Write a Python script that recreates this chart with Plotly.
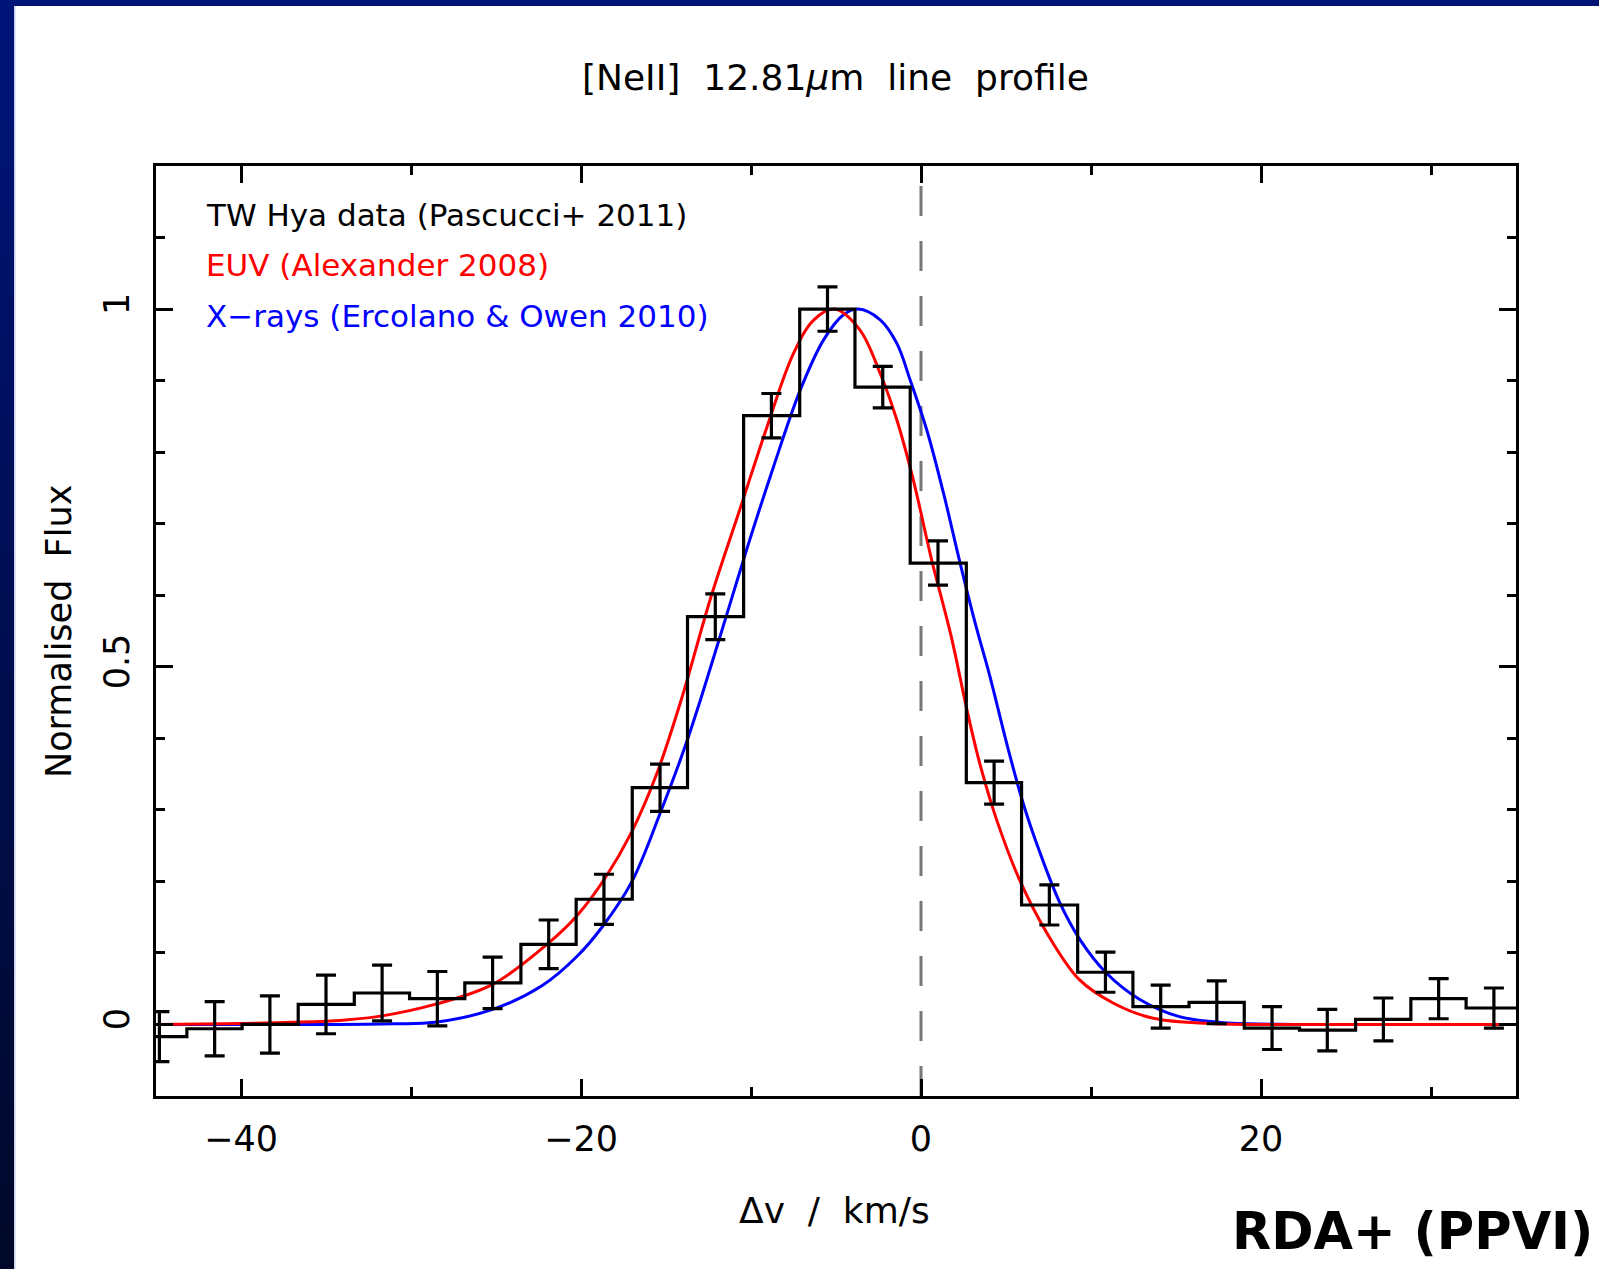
import plotly.graph_objects as go

# ---------------- data ----------------
bin_centers = [-44.8, -41.55, -38.3, -35.0, -31.7, -28.45, -25.2, -21.9, -18.65, -15.35,
               -12.1, -8.8, -5.5, -2.25, 1.0, 4.3, 7.55, 10.85, 14.1, 17.4,
               20.65, 23.9, 27.2, 30.45, 33.7]
bin_width = 3.27
flux = [-0.017, -0.006, 0.0, 0.028, 0.044, 0.036, 0.058, 0.112, 0.175, 0.331,
        0.570, 0.851, 1.0, 0.891, 0.645, 0.338, 0.167, 0.073, 0.025, 0.031,
        -0.005, -0.008, 0.007, 0.036, 0.023]
flux_err = [0.035, 0.038, 0.040, 0.041, 0.039, 0.038, 0.036, 0.034, 0.035, 0.033,
            0.032, 0.031, 0.031, 0.029, 0.031, 0.030, 0.028, 0.028, 0.030, 0.030,
            0.030, 0.029, 0.030, 0.028, 0.028]

euv_v = [-45, -41, -37, -34, -31.7, -28.6, -25.2, -21.85, -20.2, -18.6, -17.0, -15.55,
         -14.05, -12.4, -10.6, -9.05, -7.5, -6.3, -5.1, -3.6, -2.4, -1.42, -0.45, 0.6,
         1.8, 2.7, 3.5, 4.45, 5.8, 7.4, 9.3, 11.3, 13.6, 17.2, 22, 28, 35]
euv_flux = [0.0, 0.001, 0.003, 0.006, 0.012, 0.028, 0.056, 0.115, 0.153, 0.204, 0.270, 0.350,
            0.458, 0.594, 0.724, 0.836, 0.938, 0.985, 1.0, 0.971, 0.910, 0.845, 0.761, 0.652,
            0.540, 0.440, 0.361, 0.286, 0.202, 0.128, 0.063, 0.030, 0.009, 0.001, 0.0, 0.0, 0.0]

xray_v = [-45, -35, -31, -28.6, -25.2, -22.3, -20.2, -18.7, -17.0, -15.3, -13.9, -12.97,
          -11.4, -10.2, -8.67, -7.1, -5.73, -4.56, -3.7, -2.4, -1.42, -0.64, 0.34, 1.32,
          2.3, 3.2, 4.06, 5.04, 6.0, 7.0, 8.17, 9.34, 10.9, 12.87, 15.2, 18.1, 22, 28, 35]
xray_flux = [0.0, 0.0, 0.001, 0.003, 0.021, 0.054, 0.096, 0.138, 0.200, 0.298, 0.387, 0.454,
             0.575, 0.668, 0.780, 0.887, 0.957, 0.992, 1.0, 0.985, 0.952, 0.901, 0.831, 0.743,
             0.645, 0.560, 0.486, 0.393, 0.310, 0.240, 0.170, 0.119, 0.072, 0.035, 0.011, 0.002,
             0.0, 0.0, 0.0]

legend_labels = ["TW Hya data (Pascucci+ 2011)", "EUV (Alexander 2008)",
                 "X\u2212rays (Ercolano & Owen 2010)"]
legend_colors = ["black", "#ff0000", "#0000ff"]
legend_y = [1.131, 1.061, 0.991]

# ---------------- layout geometry ----------------
W, H = 1599, 1269
ML, MR, MT, MB = 156, 83, 166, 173
PW, PH = W - ML - MR, H - MT - MB

def px_x(X):
    return (X - ML) / PW

def px_y(Y):
    return (H - MB - Y) / PH

FONT = "DejaVu Sans"

# step histogram edges from bin centres
edges = [c - bin_width / 2 for c in bin_centers] + [bin_centers[-1] + bin_width / 2]
step_y = flux + [flux[-1]]

fig = go.Figure()

fig.add_trace(go.Scatter(x=xray_v, y=xray_flux, mode="lines",
                         line=dict(color="#0000ff", width=3, shape="spline", smoothing=1.0),
                         showlegend=False, hoverinfo="skip"))
fig.add_trace(go.Scatter(x=euv_v, y=euv_flux, mode="lines",
                         line=dict(color="#ff0000", width=3, shape="spline", smoothing=1.0),
                         showlegend=False, hoverinfo="skip"))
fig.add_trace(go.Scatter(x=edges, y=step_y, mode="lines",
                         line=dict(color="black", width=3.2, shape="hv"),
                         showlegend=False, hoverinfo="skip"))
fig.add_trace(go.Scatter(x=bin_centers, y=flux, mode="markers",
                         marker=dict(size=1, color="rgba(0,0,0,0)"),
                         error_y=dict(type="data", array=flux_err, visible=True,
                                      color="black", thickness=3.2, width=10),
                         showlegend=False, hoverinfo="skip"))

shapes = []
# dashed zero-velocity line
shapes.append(dict(type="line", xref="x", yref="paper", x0=0, x1=0, y0=0, y1=1,
                   line=dict(color="#777777", width=3, dash="30px,25px"), layer="below"))

# dark blue slide frame: top strip and left strip with vertical gradient
shapes.append(dict(type="rect", xref="paper", yref="paper",
                   x0=px_x(0), x1=px_x(W), y0=px_y(6), y1=px_y(-2),
                   fillcolor="#001478", line=dict(width=0), layer="above"))
nseg = 30
top_c = (0, 20, 120)
bot_c = (0, 8, 42)
for i in range(nseg):
    t = i / (nseg - 1)
    c = tuple(int(round(top_c[k] + (bot_c[k] - top_c[k]) * t)) for k in range(3))
    y0 = H * i / nseg
    y1 = H * (i + 1) / nseg + 1
    shapes.append(dict(type="rect", xref="paper", yref="paper",
                       x0=px_x(-2), x1=px_x(14), y0=px_y(y1), y1=px_y(y0),
                       fillcolor="rgb(%d,%d,%d)" % c, line=dict(width=0), layer="above"))
shapes.append(dict(type="rect", xref="paper", yref="paper",
                   x0=px_x(14), x1=px_x(15.5), y0=px_y(H + 2), y1=px_y(6),
                   fillcolor="#c8d0ec", line=dict(width=0), layer="above"))

annotations = []
for lab, col, ly in zip(legend_labels, legend_colors, legend_y):
    annotations.append(dict(text=lab, x=-42.2, y=ly, xref="x", yref="y",
                            xanchor="left", yanchor="middle", showarrow=False,
                            font=dict(family=FONT, size=31, color=col)))

annotations.append(dict(text="[NeII]  12.81<i>\u03bc</i>m  line  profile",
                        x=px_x(835), y=px_y(77), xref="paper", yref="paper",
                        xanchor="center", yanchor="middle", showarrow=False,
                        font=dict(family=FONT, size=36, color="black")))
annotations.append(dict(text="\u0394v  /  km/s", x=px_x(834), y=px_y(1210),
                        xref="paper", yref="paper", xanchor="center", yanchor="middle",
                        showarrow=False, font=dict(family=FONT, size=36, color="black")))
annotations.append(dict(text="Normalised  Flux", x=px_x(59), y=px_y(632),
                        xref="paper", yref="paper", xanchor="center", yanchor="middle",
                        textangle=-90, showarrow=False,
                        font=dict(family=FONT, size=35, color="black")))
annotations.append(dict(text="<b>RDA+ (PPVI)</b>", x=px_x(1230), y=px_y(1231),
                        xref="paper", yref="paper", xanchor="left", yanchor="middle",
                        showarrow=False, font=dict(family=FONT, size=51, color="black")))

axis_common = dict(showline=True, linecolor="black", linewidth=3, mirror="ticks",
                   ticks="inside", ticklen=17, tickwidth=3, tickcolor="black",
                   showgrid=False, zeroline=False,
                   tickfont=dict(family=FONT, size=35, color="black"))

fig.update_layout(
    width=W, height=H,
    margin=dict(l=ML, r=MR, t=MT, b=MB, pad=0),
    paper_bgcolor="white", plot_bgcolor="white",
    xaxis=dict(range=[-45, 35], tickmode="linear", tick0=0, dtick=20,
               minor=dict(dtick=10, ticklen=9, tickwidth=3, tickcolor="black", ticks="inside"),
               ticklabelstandoff=10, **axis_common),
    yaxis=dict(range=[-0.1, 1.2], tickmode="linear", tick0=0, dtick=0.5,
               minor=dict(dtick=0.1, ticklen=9, tickwidth=3, tickcolor="black", ticks="inside"),
               tickangle=-90, ticklabelstandoff=10, **axis_common),
    shapes=shapes,
    annotations=annotations,
    showlegend=False,
)

fig.write_html("out.html")
